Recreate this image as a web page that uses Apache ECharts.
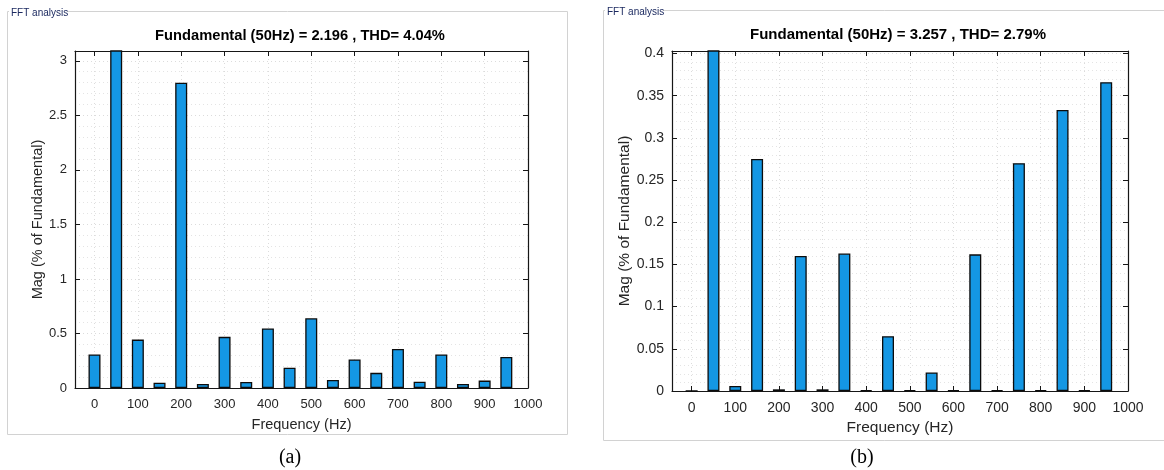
<!DOCTYPE html>
<html>
<head>
<meta charset="utf-8">
<script src="https://cdn.jsdelivr.net/npm/echarts@6/dist/echarts.min.js"></script>
<style>
  html, body { margin: 0; padding: 0; background: #ffffff; }
  #chart { width: 1164px; height: 470px; }
</style>
</head>
<body>
<div id="chart"></div>
<script>
// Harmonic frequencies (Hz), one bar every 50 Hz
const freqs = [0, 50, 100, 150, 200, 250, 300, 350, 400, 450, 500, 550, 600, 650, 700, 750, 800, 850, 900, 950];

// Case (a): harmonic magnitudes, % of fundamental (fundamental = 100, clipped by the axis)
const magA = [0.308, 100, 0.444, 0.049, 2.80, 0.037, 0.469, 0.056, 0.546, 0.185, 0.639, 0.074, 0.262, 0.139, 0.358, 0.058, 0.308, 0.037, 0.068, 0.284];

// Case (b): harmonic magnitudes, % of fundamental
const magB = [0, 100, 0.006, 0.275, 0.002, 0.160, 0.002, 0.163, 0.001, 0.065, 0.001, 0.022, 0.001, 0.162, 0.001, 0.270, 0.001, 0.333, 0.001, 0.366];

// Titles and tick labels
const titleA = 'Fundamental (50Hz) = 2.196 , THD= 4.04%';
const titleB = 'Fundamental (50Hz) = 3.257 , THD= 2.79%';
const xTicks = [0, 100, 200, 300, 400, 500, 600, 700, 800, 900, 1000];
const yTicksA = [0, 0.5, 1, 1.5, 2, 2.5, 3];
const yTicksB = [0, 0.05, 0.1, 0.15, 0.2, 0.25, 0.3, 0.35, 0.4];

const FONT = '"Liberation Sans", Arial, sans-serif';
const AXIS_COLOR = '#161616';
const TEXT_COLOR = '#262626';
const BAR_COLOR = '#1497e4';
const GRID_LINE = { show: true, lineStyle: { color: '#dcdcdc', type: [1, 3], width: 1 } };

const grids = [
  { left: 75, top: 51, width: 453, height: 337 },
  { left: 672, top: 51, width: 456, height: 340 }
];

function pairs(ys) { return freqs.map((f, i) => [f, ys[i]]); }
function plain(v) { return String(v); }

function xAxes(gi, fontSize, nameGap) {
  const common = {
    gridIndex: gi, type: 'value', min: -45, max: 1000,
    axisLine: { show: true, onZero: false, lineStyle: { color: AXIS_COLOR, width: 1.2 } },
    axisTick: { show: true, inside: true, length: 5, customValues: xTicks, lineStyle: { color: AXIS_COLOR } }
  };
  return [
    Object.assign({}, common, {
      position: 'bottom',
      axisLabel: { show: true, customValues: xTicks, formatter: plain, color: TEXT_COLOR, fontFamily: FONT, fontSize: fontSize, margin: 10 },
      splitLine: GRID_LINE,
      name: 'Frequency (Hz)', nameLocation: 'middle', nameGap: nameGap,
      nameTextStyle: { color: TEXT_COLOR, fontFamily: FONT, fontSize: fontSize + 1.5 }
    }),
    Object.assign({}, common, {
      position: 'top',
      axisLabel: { show: false },
      splitLine: { show: false }
    })
  ];
}

function yAxes(gi, max, interval, ticks, fontSize, nameGap) {
  const common = {
    gridIndex: gi, type: 'value', min: 0, max: max, interval: interval,
    axisLine: { show: true, onZero: false, lineStyle: { color: AXIS_COLOR, width: 1.2 } },
    axisTick: { show: true, inside: true, length: 5, customValues: ticks, lineStyle: { color: AXIS_COLOR } }
  };
  return [
    Object.assign({}, common, {
      position: 'left',
      axisLabel: { show: true, customValues: ticks, formatter: plain, color: TEXT_COLOR, fontFamily: FONT, fontSize: fontSize, margin: 8 },
      splitLine: GRID_LINE,
      minorTick: { show: false, splitNumber: 5 },
      minorSplitLine: { show: true, lineStyle: { color: '#e4e4e4', type: [1, 3], width: 1 } },
      name: 'Mag (% of Fundamental)', nameLocation: 'middle', nameGap: nameGap, nameRotate: 90,
      nameTextStyle: { color: TEXT_COLOR, fontFamily: FONT, fontSize: fontSize + 1.5 }
    }),
    Object.assign({}, common, {
      position: 'right',
      axisLabel: { show: false },
      splitLine: { show: false }
    })
  ];
}

function barSeries(xi, yi, ys) {
  return {
    type: 'bar', xAxisIndex: xi, yAxisIndex: yi, data: pairs(ys),
    barWidth: 12, clip: true, silent: true,
    itemStyle: { color: BAR_COLOR, borderColor: '#0c0c0c', borderWidth: 1.3 }
  };
}

// Panel frames, panel captions, plot titles and (a)/(b) captions
function panel(x, y, w, h, labelX) {
  return [
    { type: 'rect', shape: { x: x, y: y, width: w, height: h }, style: { fill: 'none', stroke: '#d2d2d2', lineWidth: 1 }, silent: true, z: 0 },
    { type: 'rect', shape: { x: labelX - 2, y: y - 6, width: 58, height: 12 }, style: { fill: '#ffffff' }, silent: true, z: 1 },
    { type: 'text', x: labelX, y: y + 2, style: { text: 'FFT analysis', fill: '#1c2a60', font: '10px ' + FONT, textVerticalAlign: 'middle' }, silent: true, z: 2 }
  ];
}

const graphics = [].concat(
  panel(7.5, 11.5, 560, 423, 11),
  panel(603.5, 10.5, 580, 430, 607),
  [
    { type: 'text', x: 300, y: 36, style: { text: titleA, fill: '#000', font: 'bold 14.7px ' + FONT, textAlign: 'center', textVerticalAlign: 'middle' }, silent: true },
    { type: 'text', x: 898, y: 35, style: { text: titleB, fill: '#000', font: 'bold 15px ' + FONT, textAlign: 'center', textVerticalAlign: 'middle' }, silent: true },
    { type: 'text', x: 290, y: 458, style: { text: '(a)', fill: '#000', font: '20px "Liberation Serif", "Times New Roman", serif', textAlign: 'center', textVerticalAlign: 'middle' }, silent: true },
    { type: 'text', x: 862, y: 458, style: { text: '(b)', fill: '#000', font: '20px "Liberation Serif", "Times New Roman", serif', textAlign: 'center', textVerticalAlign: 'middle' }, silent: true }
  ]
);

const chart = echarts.init(document.getElementById('chart'), null, { renderer: 'canvas' });
chart.setOption({
  animation: false,
  backgroundColor: '#ffffff',
  grid: grids,
  xAxis: xAxes(0, 13, 29).concat(xAxes(1, 14, 28)),
  yAxis: yAxes(0, 3.09, 0.5, yTicksA, 13, 29).concat(yAxes(1, 0.403, 0.05, yTicksB, 14, 39)),
  series: [barSeries(0, 0, magA), barSeries(2, 2, magB)],
  graphic: graphics
});
</script>
</body>
</html>
